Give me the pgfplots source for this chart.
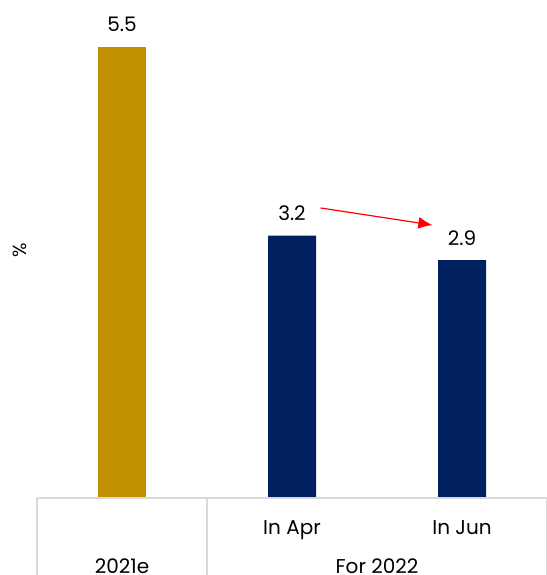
\documentclass[border=0pt]{standalone}
\usepackage{pgfplots}
\pgfplotsset{compat=1.18}
\usetikzlibrary{arrows.meta}
\usepackage{fontspec}
\setmainfont{Poppins}
\definecolor{gold}{HTML}{BF9000}
\definecolor{navy}{HTML}{002060}
\definecolor{gridgray}{HTML}{D9D9D9}
\begin{document}
\begin{tikzpicture}
\path[use as bounding box] (-37pt,-77pt) rectangle (509pt,498pt);
\begin{axis}[
  scale only axis, width=510pt, height=492pt,
  xmin=-0.5, xmax=2.5, ymin=0, ymax=6,
  axis line style={draw=none},
  xtick=\empty, ytick=\empty,
  clip=false,
  bar width=48pt,
  nodes near coords,
  every node near coord/.append style={font=\fontsize{20}{24}\selectfont, anchor=base, yshift=15pt, text=black},
  /pgf/number format/assume math mode=true,
  /pgf/number format/.cd, fixed, fixed zerofill, precision=1,
]
\addplot[ybar, fill=gold, draw=none] coordinates {(0,5.5)};
\addplot[ybar, fill=navy, draw=none] coordinates {(1,3.2) (2,2.9)};
\node[rotate=90, font=\fontsize{19}{22}\selectfont] at ([xshift=-17pt]axis cs:-0.5,3.02) {\%};
\draw[gridgray, line width=1.2pt] (axis cs:-0.5,0) -- (axis cs:2.5,0);
\draw[gridgray, line width=1.2pt] (axis cs:-0.5,0) -- ([yshift=-80pt]axis cs:-0.5,0);
\draw[gridgray, line width=1.2pt] (axis cs:0.5,0) -- ([yshift=-80pt]axis cs:0.5,0);
\draw[gridgray, line width=1.2pt] (axis cs:2.5,0) -- ([yshift=-80pt]axis cs:2.5,0);
\node[anchor=base, font=\fontsize{20}{24}\selectfont] at ([yshift=-36pt]axis cs:1,0) {In Apr};
\node[anchor=base, font=\fontsize{20}{24}\selectfont] at ([yshift=-36pt]axis cs:2,0) {In Jun};
\node[anchor=base, font=\fontsize{20}{24}\selectfont] at ([yshift=-75pt]axis cs:0,0) {2021e};
\node[anchor=base, font=\fontsize{20}{24}\selectfont] at ([yshift=-75pt]axis cs:1.5,0) {For 2022};
\draw[red, line width=1.2pt, -{Latex[length=14pt,width=12pt]}] (axis cs:1.168,3.537) -- (axis cs:1.826,3.329);
\end{axis}
\end{tikzpicture}
\end{document}
